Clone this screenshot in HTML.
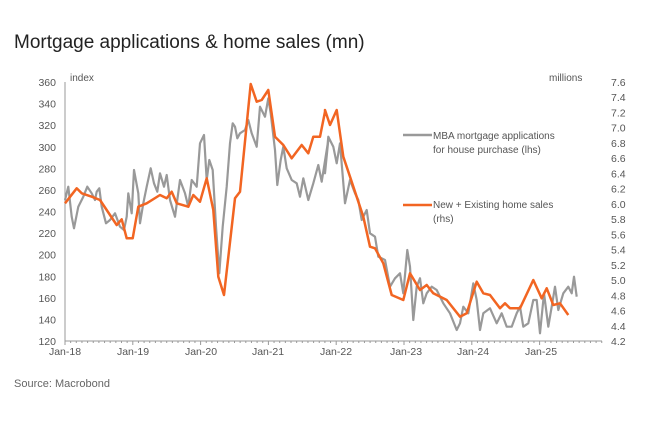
<!DOCTYPE html>
<html><head><meta charset="utf-8"><style>
body{margin:0;background:#fff;font-family:"Liberation Sans",sans-serif;}
svg text{font-family:"Liberation Sans",sans-serif;fill:#555;}
</style></head><body>
<svg id="s" width="654" height="418" viewBox="0 0 654 418" xmlns="http://www.w3.org/2000/svg">
<text x="14" y="48" style="font-size:19px;fill:#222">Mortgage applications &amp; home sales (mn)</text>
<text x="14" y="387" style="font-size:11px;fill:#666">Source: Macrobond</text>
<text x="70" y="81" style="font-size:10px">index</text>
<text x="549" y="81" style="font-size:10px">millions</text>
<g id="ax" stroke="#999" stroke-width="1"><line x1="65" y1="82" x2="65" y2="341"/><line x1="65" y1="341" x2="602" y2="341"/></g>
<g id="lab" style="font-size:10.5px"></g>
<text x="433" y="139" style="font-size:10px">MBA mortgage applications</text>
<text x="433" y="153" style="font-size:10px">for house purchase (lhs)</text>
<text x="433" y="208" style="font-size:10px">New + Existing home sales</text>
<text x="433" y="222" style="font-size:10px">(rhs)</text>
<line x1="403" y1="135" x2="432" y2="135" stroke="#999" stroke-width="2.5"/>
<line x1="403" y1="205" x2="432" y2="205" stroke="#f26522" stroke-width="2.5"/>
<polyline id="g" fill="none" stroke="#999" stroke-width="2.2" stroke-linejoin="round"/>
<polyline id="o" fill="none" stroke="#f26522" stroke-width="2.5" stroke-linejoin="round"/>
</svg>
<script>
var ns="http://www.w3.org/2000/svg",lab=document.getElementById('lab'),ax=document.getElementById('ax');
function t(x,y,s,a){var e=document.createElementNS(ns,'text');e.setAttribute('x',x);e.setAttribute('y',y);if(a)e.setAttribute('text-anchor',a);e.textContent=s;lab.appendChild(e);}
for(var i=0;i<=12;i++){var v=120+i*20,y=341-i*(259/12);t(56,y+4,v,'end');}
for(var i=0;i<=17;i++){var v=(4.2+i*0.2).toFixed(1),y=341-i*(259/17);t(611,y+4,v);}
var yrs=['Jan-18','Jan-19','Jan-20','Jan-21','Jan-22','Jan-23','Jan-24','Jan-25'],xs=[65,133,201,268,336,406,473,541];
for(var i=0;i<8;i++){t(xs[i],355,yrs[i],'middle');}
for(var m=0;m<96;m++){var x=65+m*(67.8/12);var l=document.createElementNS(ns,'line');l.setAttribute('x1',x);l.setAttribute('x2',x);l.setAttribute('y1',341);l.setAttribute('y2',m%12?343:345);ax.appendChild(l);}
function conv(a1,a2){var r=[];for(var i=0;i<a1.length;i+=2)r.push((a1[i]/3).toFixed(1)+','+(a1[i+1]/3+60).toFixed(1));for(var i=0;i<a2.length;i+=2)r.push((a2[i]/3+320).toFixed(1)+','+(a2[i+1]/3+60).toFixed(1));return r.join(' ');}
var o1=[195,430,230,385,245,400,275,410,300,420,350,495,365,478,380,535,398,535,415,440,440,430,480,405,500,415,515,395,530,430,565,440,580,405,600,425,620,355,640,450,655,650,672,705,705,415,720,395,752,72,770,125,785,120,805,90,825,230,850,255,875,295,905,255,925,280,940,230,960,230,975,155];
var o2=[15,150,30,195,50,150,70,290,90,350,130,470,150,560,165,565,190,610,215,705,250,720,270,640,300,690,320,675,340,700,380,720,420,770,440,760,470,665,490,700,510,705,540,745,555,730,570,745,600,745,640,660,665,715,680,685,700,735,720,730,745,765];
var g1=[195,420,205,380,215,470,222,505,235,440,250,410,262,380,275,400,285,420,290,395,298,385,305,440,318,490,330,480,345,460,360,500,372,510,380,470,385,400,395,460,402,330,415,400,420,490,430,430,440,380,452,325,462,370,472,395,480,340,492,380,500,345,510,420,525,470,540,360,555,400,565,440,575,360,590,380,600,250,612,225,620,360,628,300,638,330,648,500,658,640,668,500,680,380,690,250,698,190,705,200,712,235,720,220,735,210,745,180,755,220,770,260,780,140,795,170,805,115,812,160,825,270,832,375,842,300,850,260,860,325,875,360,890,370,900,410,910,355,925,420,940,370,955,315,965,365,985,240];
var g2=[15,340,25,230,40,260,50,310,60,250,75,430,90,360,105,400,115,420,125,480,140,450,150,520,165,530,175,590,195,600,210,680,225,655,240,640,250,700,262,570,270,620,280,780,290,680,300,655,310,730,320,700,335,680,350,690,370,730,390,760,410,810,420,790,430,740,445,760,460,670,470,720,480,810,490,760,510,745,530,790,545,760,560,800,575,800,590,760,600,740,610,800,625,790,640,720,650,720,660,820,672,700,685,800,695,740,705,680,715,750,730,700,745,680,755,700,762,650,770,710];
document.getElementById('o').setAttribute('points',conv(o1,o2));
document.getElementById('g').setAttribute('points',conv(g1,g2));
</script>
</body></html>
